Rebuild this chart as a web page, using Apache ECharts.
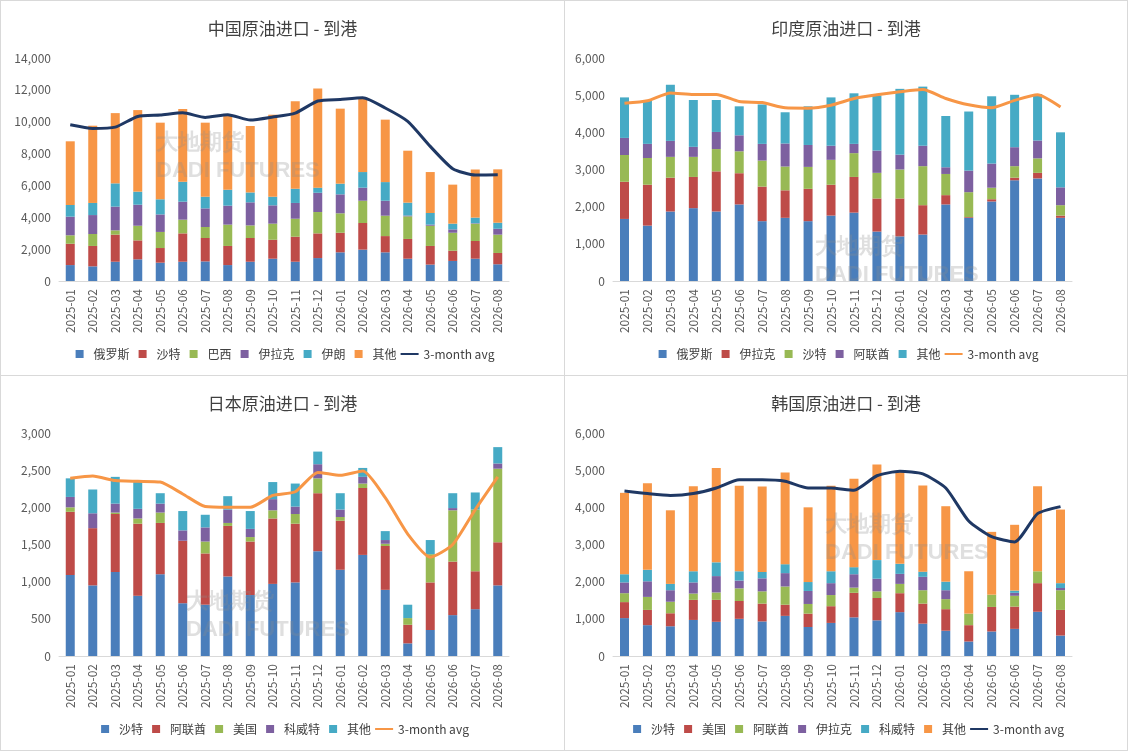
<!DOCTYPE html>
<html>
<head>
<meta charset="utf-8">
<script src="https://cdn.jsdelivr.net/npm/echarts@6/dist/echarts.min.js"></script>
<style>
body{margin:0;background:#fff;}
#wrap{position:relative;width:1128px;height:751px;}
.p{position:absolute;border:1px solid #d9d9d9;box-sizing:border-box;background:#fff;}
</style>
</head>
<body>
<div id="wrap">
  <div class="p" id="c1" style="left:0;top:0;width:565px;height:376px"></div>
  <div class="p" id="c2" style="left:564px;top:0;width:564px;height:376px"></div>
  <div class="p" id="c3" style="left:0;top:375px;width:565px;height:376px"></div>
  <div class="p" id="c4" style="left:564px;top:375px;width:564px;height:376px"></div>
</div>
<script>
// 月份
var months = ['2025-01','2025-02','2025-03','2025-04','2025-05','2025-06','2025-07','2025-08','2025-09','2025-10',
  '2025-11','2025-12','2026-01','2026-02','2026-03','2026-04','2026-05','2026-06','2026-07','2026-08'];

// 中国
var cnNames = ['俄罗斯','沙特','巴西','伊拉克','伊朗','其他'];
var cnRussia = [1000,920,1210,1360,1150,1210,1230,1000,1210,1400,1210,1440,1800,1970,1800,1400,1030,1260,1400,1050];
var cnSaudi  = [1340,1280,1700,1190,920,1780,1470,1200,1490,1190,1570,1550,1230,1670,1020,1240,1170,640,1110,710];
var cnBrazil = [530,750,270,920,1010,860,690,1340,790,1010,1130,1340,1220,1400,1280,1420,1270,1130,1090,1150];
var cnIraq   = [1170,1190,1490,1320,1100,1130,1170,1190,1450,1150,990,1210,1190,820,940,50,70,210,30,370];
var cnIran   = [730,760,1460,820,950,1250,730,1000,620,540,890,320,670,980,1170,810,730,360,350,380];
var cnOther  = [4000,4850,4410,5120,4810,4570,4650,4750,4170,5150,5490,6230,4710,4690,3920,3260,2570,2450,3020,3350];
var cnAvg    = [9810,9580,9660,10330,10420,10560,10270,10440,10100,10290,10540,11300,11400,11500,10860,10020,8450,7050,6650,6670];

// 印度
var inNames = ['俄罗斯','伊拉克','沙特','阿联酋','其他'];
var inRussia = [1670,1490,1870,1960,1870,2060,1610,1700,1610,1760,1840,1330,1200,1250,2060,1700,2140,2710,2760,1700];
var inIraq   = [1000,1100,910,840,1080,840,930,740,870,830,960,890,1020,790,250,20,60,70,150,60];
var inSaudi  = [720,720,560,540,600,590,700,640,590,670,640,690,780,1050,570,670,310,310,390,280];
var inUAE    = [460,380,430,270,460,430,450,620,590,380,250,600,400,550,180,580,650,510,480,480];
var inOther  = [1090,1160,1510,1260,860,780,1060,840,1040,1300,1360,1480,1770,1590,1380,1590,1810,1410,1250,1480];
var inAvg    = [4780,4850,5060,5020,5020,4830,4800,4660,4650,4730,4910,5010,5090,5150,4910,4740,4660,4860,5010,4680];

// 日本
var jpNames = ['沙特','阿联酋','美国','科威特','其他'];
var jpSaudi  = [1090,950,1130,810,1100,710,690,1070,820,970,990,1410,1160,1360,890,170,350,550,630,950];
var jpUAE    = [850,770,780,970,690,840,690,680,720,880,790,780,660,900,590,250,640,720,510,580];
var jpUS     = [60,0,20,70,140,0,160,40,60,110,130,200,50,60,30,90,380,690,830,990];
var jpKuwait = [140,200,120,130,120,140,190,180,110,150,100,190,100,90,50,0,0,30,0,70];
var jpOther  = [250,320,360,360,140,260,170,180,240,230,310,170,220,120,120,180,190,200,230,220];
var jpAvg    = [2390,2420,2360,2350,2340,2180,2010,2000,2000,2160,2210,2470,2430,2490,2130,1640,1330,1500,1970,2410];

// 韩国
var krNames = ['沙特','美国','阿联酋','伊拉克','科威特','其他'];
var krSaudi  = [1020,830,800,970,920,1000,930,1080,780,890,1040,960,1180,870,680,390,660,730,1190,550];
var krUS     = [430,410,350,540,590,480,480,300,360,450,660,600,510,540,580,440,660,600,770,690];
var krUAE    = [240,350,310,170,200,340,330,490,260,300,140,180,250,360,270,310,330,290,320,530];
var krIraq   = [290,420,310,300,440,210,350,360,350,320,360,340,270,360,240,0,0,80,0,60];
var krKuwait = [220,310,170,300,370,250,170,240,240,320,190,500,270,140,230,0,0,60,0,130];
var krOther  = [2190,2330,1980,2290,2540,2300,2300,2470,2010,2300,2380,2570,2480,2320,2030,1140,1690,1770,2290,1980];
var krAvg    = [4440,4370,4320,4370,4520,4740,4740,4700,4520,4520,4460,4850,4970,4900,4520,3630,3210,3070,3830,4020];

var COLORS = ['#4a7ebb','#be4b48','#98b954','#7d60a0','#46aac5','#f79646'];
// 图例图标: 同一宽度里画方块或线条
var ICON_RECT = 'path://M0,0L0,0M18,8L18,8M5,0L13,0L13,8L5,8Z';
var ICON_LINE = 'path://M0,0L0,0M18,8L18,8M0,3L18,3L18,5L0,5Z';

function makeChart(id, title, names, stacks, colors, avg, avgColor, yMax, yInt, gridLeft, wm) {
  var chart = echarts.init(document.getElementById(id));
  var series = [];
  for (var i = 0; i < stacks.length; i++) {
    series.push({
      name: names[i], type: 'bar', stack: 'a', data: stacks[i],
      barWidth: 9, itemStyle: {color: colors[i]}
    });
  }
  series.push({
    name: '3-month avg', type: 'line', data: avg, symbol: 'none', smooth: 0.2,
    lineStyle: {color: avgColor, width: 3}, itemStyle: {color: avgColor}, z: 5
  });
  chart.setOption({
    animation: false,
    textStyle: {fontFamily: 'Noto Sans CJK SC, sans-serif'},
    title: {text: title, left: 'center', top: 14, textStyle: {fontSize: 17, fontWeight: 'normal', color: '#404040'}},
    grid: {left: gridLeft, right: 55, top: 57, bottom: 94},
    legend: {
      bottom: 10, itemWidth: 18, itemHeight: 8, itemGap: 4,
      textStyle: {fontSize: 12, color: '#404040'},
      data: names.map(function(n){ return {name: n, icon: ICON_RECT}; })
        .concat([{name: '3-month avg', icon: ICON_LINE}])
    },
    xAxis: {
      type: 'category', data: months,
      axisLine: {lineStyle: {color: '#d9d9d9'}}, axisTick: {show: false},
      axisLabel: {rotate: 90, color: '#595959', fontSize: 12, interval: 0}
    },
    yAxis: {
      type: 'value', min: 0, max: yMax, interval: yInt,
      splitLine: {show: false},
      axisLabel: {color: '#595959', fontSize: 12, formatter: function(v){ return v.toLocaleString('en-US'); }}
    },
    graphic: [{
      type: 'text', left: wm[0], top: wm[1], z: 100,
      style: {text: '大地期货\nDADI FUTURES', fill: 'rgba(140,140,140,0.28)', fontSize: 22, fontWeight: 'bold', align: 'center', lineHeight: 28}
    }],
    series: series
  });
}

makeChart('c1', '中国原油进口 - 到港', cnNames,
  [cnRussia, cnSaudi, cnBrazil, cnIraq, cnIran, cnOther], COLORS, cnAvg, '#1f3864', 14000, 2000, 58, [155, 128]);
makeChart('c2', '印度原油进口 - 到港', inNames,
  [inRussia, inIraq, inSaudi, inUAE, inOther], COLORS.slice(0,5), inAvg, '#f79646', 6000, 1000, 48, [250, 232]);
makeChart('c3', '日本原油进口 - 到港', jpNames,
  [jpSaudi, jpUAE, jpUS, jpKuwait, jpOther], COLORS.slice(0,5), jpAvg, '#f79646', 3000, 500, 58, [185, 212]);
makeChart('c4', '韩国原油进口 - 到港', krNames,
  [krSaudi, krUS, krUAE, krIraq, krKuwait, krOther], COLORS, krAvg, '#1f3864', 6000, 1000, 48, [260, 135]);
</script>
</body>
</html>
